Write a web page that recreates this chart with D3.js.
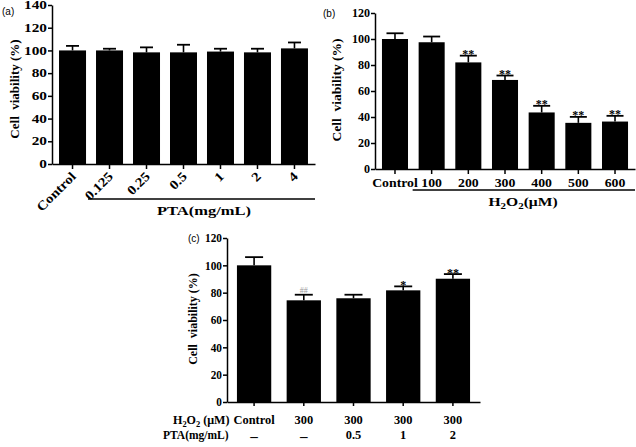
<!DOCTYPE html>
<html>
<head>
<meta charset="utf-8">
<script src="https://cdn.jsdelivr.net/npm/d3@7"></script>
<style>
body { margin: 0; background: #fff; }
text { font-family: "Liberation Serif", "Times New Roman", serif; font-weight: bold; fill: #000; }
.axis path, .axis line { stroke: #000; stroke-width: 1.5; }
.lett { font-family: "Liberation Sans", Arial, sans-serif; font-weight: normal; font-size: 10px; }
</style>
</head>
<body>
<svg id="fig" width="636" height="447"></svg>
<script>
// (a) PTA alone
var catsA = ["Control", "0.125", "0.25", "0.5", "1", "2", "4"];
var valsA = [100, 100, 98.3, 98.3, 99, 98.3, 101.8];
var errsA = [4, 1.5, 4.4, 6.7, 2.5, 3.2, 5.2];

// (b) H2O2 dose
var catsB = ["Control", "100", "200", "300", "400", "500", "600"];
var valsB = [100, 97.5, 82, 68.5, 43.5, 35.5, 36.5];
var errsB = [4.4, 4.4, 5.2, 3.4, 5.1, 4.6, 4.4];
var sigB = ["", "", "**", "**", "**", "**", "**"];

// (c) H2O2 300 + PTA
var h2o2C = ["Control", "300", "300", "300", "300"];
var ptaC = ["\u2013", "\u2013", "0.5", "1", "2"];
var valsC = [100, 74.4, 75.9, 81.7, 90.2];
var errsC = [6, 4.1, 2.6, 2.9, 3.4];
var sigC = ["", "##", "", "*", "**"];

var svg = d3.select("#fig");
var yLabel = "Cell\u00a0 viability (%)";

function stext(g, x, y, txt, size, sx, anchor){
	return g.append("text")
			.attr("transform", "translate(" + x + "," + y + ") scale(" + sx + ",1)")
			.attr("text-anchor", anchor || "middle")
			.style("font-size", size + "px")
			.text(txt);
}

function h2o2(t, rest){
	t.append("tspan").text("H");
	t.append("tspan").attr("dy", 3).style("font-size", "0.7em").text("2");
	t.append("tspan").attr("dy", -3).text("O");
	t.append("tspan").attr("dy", 3).style("font-size", "0.7em").text("2");
	t.append("tspan").attr("dy", -3).text(rest);
}

function stretchTicks(g, sx, size){
	g.selectAll(".tick text")
	 .style("font-size", size + "px")
	 .attr("transform", "scale(" + sx + ",1)")
	 .attr("x", function(){
		var x = d3.select(this).attr("x");
		return x == null ? null : x / sx;
	 });
}

function yAxis(g, y, x0, sx){
	var ax = g.append("g").attr("class", "axis")
			  .attr("transform", "translate(" + x0 + ",0)")
			  .call(d3.axisLeft(y).ticks(7).tickSize(4).tickSizeOuter(0).tickPadding(1));
	stretchTicks(ax, sx, 11.5);
	return ax;
}

function yTitle(g, cx, cy, size){
	g.append("text")
	 .attr("transform", "translate(" + (cx + size * 0.35) + "," + cy + ") rotate(-90)")
	 .attr("text-anchor", "middle")
	 .style("font-size", size + "px")
	 .text(yLabel);
}

function drawBars(g, x, y, keys, vals, errs, capW){
	g.selectAll(".bar").data(keys).enter().append("rect")
	 .attr("class", "bar")
	 .attr("x", function(d){ return x(d); })
	 .attr("width", x.bandwidth())
	 .attr("y", function(d, i){ return y(vals[i]); })
	 .attr("height", function(d, i){ return y(0) - y(vals[i]); })
	 .style("fill", "#000");

	g.selectAll(".ebar").data(keys).enter().append("line")
	 .attr("x1", function(d){ return x(d) + x.bandwidth() / 2; })
	 .attr("x2", function(d){ return x(d) + x.bandwidth() / 2; })
	 .attr("y1", function(d, i){ return y(vals[i]); })
	 .attr("y2", function(d, i){ return y(vals[i] + errs[i]); })
	 .style("stroke", "#000").style("stroke-width", 1.6);

	g.selectAll(".ecap").data(keys).enter().append("line")
	 .attr("x1", function(d){ return x(d) + x.bandwidth() / 2 - capW / 2; })
	 .attr("x2", function(d){ return x(d) + x.bandwidth() / 2 + capW / 2; })
	 .attr("y1", function(d, i){ return y(vals[i] + errs[i]); })
	 .attr("y2", function(d, i){ return y(vals[i] + errs[i]); })
	 .style("stroke", "#000").style("stroke-width", 1.8);
}

function drawSig(g, x, y, keys, vals, errs, sig){
	g.selectAll(".sig").data(keys).enter().append("text")
	 .attr("x", function(d){ return x(d) + x.bandwidth() / 2; })
	 .attr("y", function(d, i){ return y(vals[i] + errs[i]) + (sig[i] == "##" ? -1.5 : 2.5); })
	 .attr("text-anchor", "middle")
	 .style("font-size", function(d, i){ return sig[i] == "##" ? "8px" : "12px"; })
	 .style("fill", function(d, i){ return sig[i] == "##" ? "#9a9a9a" : "#000"; })
	 .style("font-weight", function(d, i){ return sig[i] == "##" ? "normal" : "bold"; })
	 .text(function(d, i){ return sig[i]; });
}

/* ---------- panel (a) ---------- */
var gA = svg.append("g");
var yA = d3.scaleLinear().domain([0, 140]).range([164, 5]);
var xA = d3.scaleBand().domain(catsA).range([52, 315]).paddingInner(0.27).paddingOuter(0.19);
drawBars(gA, xA, yA, catsA, valsA, errsA, 13);
yAxis(gA, yA, 52, 1.33);
var axA = gA.append("g").attr("class", "axis")
			.attr("transform", "translate(0,164)")
			.call(d3.axisBottom(xA).tickSize(5).tickSizeOuter(0));
axA.selectAll(".tick text")
   .attr("x", null).attr("y", null).attr("dy", "0.35em")
   .attr("text-anchor", "end")
   .style("font-size", "13px")
   .attr("transform", "translate(1,10) rotate(-45) scale(1.15,1)");
gA.append("line").attr("x1", xA(catsA[1]) - 8).attr("x2", 315).attr("y1", 199).attr("y2", 199)
  .style("stroke", "#000").style("stroke-width", 1.5);
stext(gA, 204, 215, "PTA(mg/mL)", 12.5, 1.32);
yTitle(gA, 14, 89, 13);
gA.append("text").attr("class", "lett").attr("x", 2).attr("y", 15).text("(a)");

/* ---------- panel (b) ---------- */
var gB = svg.append("g");
var yB = d3.scaleLinear().domain([0, 120]).range([169, 13]);
var xB = d3.scaleBand().domain(catsB).range([375, 635]).paddingInner(0.29).paddingOuter(0.19);
drawBars(gB, xB, yB, catsB, valsB, errsB, 17);
drawSig(gB, xB, yB, catsB, valsB, errsB, sigB);
yAxis(gB, yB, 375, 1.05);
var axB = gB.append("g").attr("class", "axis")
			.attr("transform", "translate(0,169)")
			.call(d3.axisBottom(xB).tickSize(5).tickSizeOuter(0).tickPadding(5));
stretchTicks(axB, 1.2, 11.5);
gB.append("line").attr("x1", xB(catsB[1]) - 6).attr("x2", 635).attr("y1", 190).attr("y2", 190)
  .style("stroke", "#000").style("stroke-width", 1.5);
h2o2(stext(gB, 523, 206, "", 12.5, 1.25), "(\u03bcM)");
yTitle(gB, 336, 90, 13.5);
gB.append("text").attr("class", "lett").attr("x", 323).attr("y", 17).text("(b)");

/* ---------- panel (c) ---------- */
var gC = svg.append("g");
var idxC = d3.range(valsC.length);
var yC = d3.scaleLinear().domain([0, 120]).range([402, 238]);
var xC = d3.scaleBand().domain(idxC).range([227, 480]).paddingInner(0.31).paddingOuter(0.2);
drawBars(gC, xC, yC, idxC, valsC, errsC, 18);
drawSig(gC, xC, yC, idxC, valsC, errsC, sigC);
yAxis(gC, yC, 227, 0.98);
var axC = gC.append("g").attr("class", "axis")
			.attr("transform", "translate(0,402)")
			.call(d3.axisBottom(xC).tickSize(4).tickSizeOuter(0).tickPadding(10)
					.tickFormat(function(d){ return h2o2C[d]; }));
stretchTicks(axC, 1.08, 11.5);
gC.selectAll(".pta").data(idxC).enter().append("text")
  .attr("transform", function(d){ return "translate(" + (xC(d) + xC.bandwidth() / 2) + ",439) scale(1.08,1)"; })
  .attr("text-anchor", "middle")
  .attr("dy", function(d){ return ptaC[d] == "\u2013" ? "0.15em" : 0; })
  .style("font-size", function(d){ return ptaC[d] == "\u2013" ? "14px" : "11.5px"; })
  .text(function(d){ return ptaC[d]; });
h2o2(stext(gC, 173, 424, "", 11.5, 1.05, "start"), " (\u03bcM)");
stext(gC, 163, 439, "PTA(mg/mL)", 11.5, 1.0, "start");
yTitle(gC, 193, 319, 12);
gC.append("text").attr("class", "lett").attr("x", 188).attr("y", 242).text("(c)");
</script>
</body>
</html>
